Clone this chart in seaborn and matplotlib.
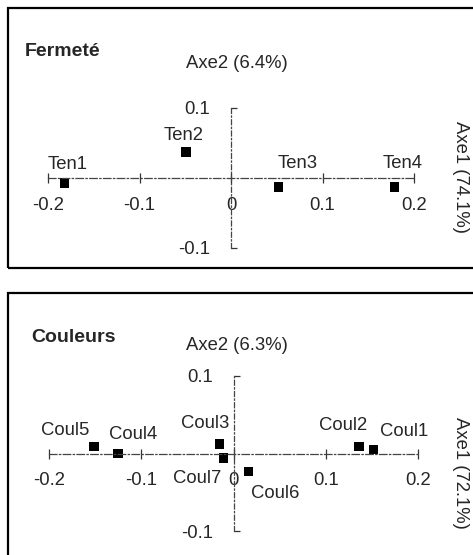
import matplotlib
matplotlib.use("Agg")
import matplotlib.pyplot as plt
import seaborn as sns
import pandas as pd
from matplotlib.patches import Rectangle

# Data
ten_labels = ["Ten1", "Ten2", "Ten3", "Ten4"]
ten_axe1 = [-0.182, -0.049, 0.052, 0.179]
ten_axe2 = [-0.007, 0.037, -0.013, -0.013]

coul_labels = ["Coul1", "Coul2", "Coul3", "Coul4", "Coul5", "Coul6", "Coul7"]
coul_axe1 = [0.152, 0.136, -0.015, -0.125, -0.151, 0.016, -0.011]
coul_axe2 = [0.005, 0.009, 0.012, 0.0, 0.009, -0.023, -0.006]

x_ticks = [-0.2, -0.1, 0, 0.1, 0.2]
x_ticklabels = ["-0.2", "-0.1", "0", "0.1", "0.2"]
y_ticks = [-0.1, 0.1]
y_ticklabels = ["-0.1", "0.1"]

W, H = 473, 555
DPI = 100
FS = 13.3

sns.set_theme(style="white")
plt.rcParams['font.family'] = ['Liberation Sans', 'DejaVu Sans']

fig = plt.figure(figsize=(W / DPI, H / DPI), dpi=DPI)


def fx(x):
    return x / W


def fy(y):
    return 1 - y / H


def panel(df, title, ax2_label, ax1_label, box, ax_px, offsets, title_px, ax2_px, ax1_px):
    # frame
    bx0, by0, bx1, by1 = box
    fig.add_artist(Rectangle((fx(bx0), fy(by1)), fx(bx1 - bx0), (by1 - by0) / H,
                             transform=fig.transFigure, fill=False,
                             edgecolor="black", linewidth=1.6))
    x0, y0, x1, y1 = ax_px
    ax = fig.add_axes([fx(x0), fy(y1), fx(x1 - x0), (y1 - y0) / H])
    ax.set_facecolor("none")

    sns.scatterplot(data=df, x="axe1", y="axe2", marker="s", s=46,
                    color="black", edgecolor="none", ax=ax, legend=False, clip_on=False)
    for _, r in df.iterrows():
        dx, dy = offsets[r["label"]]
        ax.annotate(r["label"], xy=(r["axe1"], r["axe2"]), xytext=(dx, dy),
                    textcoords="offset pixels", ha="center", va="center",
                    fontsize=FS, annotation_clip=False)

    ax.set_xlim(-0.2, 0.2)
    ax.set_ylim(-0.1, 0.1)
    ax.set_xlabel("")
    ax.set_ylabel("")
    for s in ["top", "right"]:
        ax.spines[s].set_visible(False)
    ax.spines["left"].set_position(("data", 0))
    ax.spines["bottom"].set_position(("data", 0))
    ax.spines["bottom"].set_linestyle((0, (6, 2, 1, 2)))
    ax.spines["left"].set_linestyle((0, (4, 2, 1, 2)))
    for s in ["left", "bottom"]:
        ax.spines[s].set_color("#444444")
        ax.spines[s].set_linewidth(0.9)

    ax.set_xticks(x_ticks)
    ax.set_xticklabels(x_ticklabels)
    ax.set_yticks(y_ticks)
    ax.set_yticklabels(y_ticklabels)
    ax.tick_params(axis="x", direction="inout", length=7, width=0.9, color="#333333",
                   labelsize=FS, pad=10, bottom=True)
    ax.tick_params(axis="y", direction="in", length=4, width=0.9, color="#333333",
                   labelsize=FS, pad=15, left=True)

    fig.text(fx(title_px[0]), fy(title_px[1]), title, fontsize=14, fontweight="bold",
             ha="left", va="center")
    fig.text(fx(ax2_px[0]), fy(ax2_px[1]), ax2_label, fontsize=FS, ha="center", va="center")
    fig.text(fx(ax1_px[0]), fy(ax1_px[1]), ax1_label, fontsize=FS, ha="center", va="center",
             rotation=-90)
    return ax


ten_df = pd.DataFrame({"label": ten_labels, "axe1": ten_axe1, "axe2": ten_axe2})
coul_df = pd.DataFrame({"label": coul_labels, "axe1": coul_axe1, "axe2": coul_axe2})

ten_offsets = {"Ten1": (3, 18), "Ten2": (-3, 17), "Ten3": (19, 24), "Ten4": (8, 24)}
coul_offsets = {"Coul1": (30, 18), "Coul2": (-16, 21), "Coul3": (-14, 21), "Coul4": (15, 19),
                "Coul5": (-29, 16), "Coul6": (27, -22), "Coul7": (-26, -20)}

panel(ten_df, "Fermeté", "Axe2 (6.4%)", "Axe1 (74.1%)",
      box=(8, 8, 480, 268), ax_px=(48, 108, 414, 248), offsets=ten_offsets,
      title_px=(25, 51), ax2_px=(237, 63), ax1_px=(460, 177))

panel(coul_df, "Couleurs", "Axe2 (6.3%)", "Axe1 (72.1%)",
      box=(8, 293, 480, 562), ax_px=(49, 376, 418, 531), offsets=coul_offsets,
      title_px=(31, 338), ax2_px=(237, 345), ax1_px=(460, 473))

fig.savefig("out.png", dpi=DPI)
